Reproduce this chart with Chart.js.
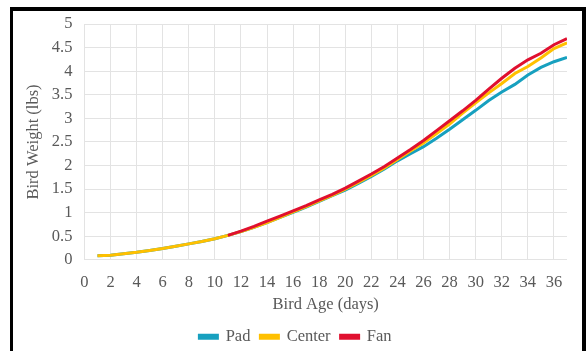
<!DOCTYPE html>
<html>
<head>
<meta charset="utf-8">
<script src="https://cdn.jsdelivr.net/npm/chart.js@4.4.1/dist/chart.umd.min.js"></script>
<style>
  html, body { margin: 0; padding: 0; background: #fff; }
  #wrap { position: relative; width: 587px; height: 351px; overflow: hidden; }
  #c { position: absolute; left: 0; top: 0; }
  #frame {
    position: absolute; left: 10px; top: 7px; width: 569px; height: 360px;
    border-left: 3px solid #000; border-top: 4px solid #000; border-right: 4px solid #000;
    pointer-events: none;
  }
</style>
</head>
<body>
<div id="wrap">
  <canvas id="c" width="587" height="357"></canvas>
  <div id="frame"></div>
</div>
<script>
// Bird age (days) and weight (lbs) for each treatment
const padDays = [1,2,3,4,5,6,7,8,9,10,11,12,13,14,15,16,17,18,19,20,21,22,23,24,25,26,27,28,29,30,31,32,33,34,35,36,37];
const padWeight = [0.09,0.10,0.13,0.16,0.20,0.24,0.29,0.34,0.39,0.45,0.52,0.60,0.69,0.79,0.90,1.01,1.12,1.24,1.36,1.48,1.62,1.77,1.93,2.10,2.25,2.40,2.58,2.77,2.97,3.17,3.38,3.56,3.72,3.92,4.08,4.20,4.29];

const centerDays = padDays;
const centerWeight = [0.09,0.10,0.13,0.16,0.20,0.24,0.29,0.34,0.39,0.45,0.52,0.60,0.69,0.79,0.90,1.02,1.13,1.25,1.37,1.50,1.64,1.79,1.95,2.13,2.31,2.48,2.68,2.88,3.11,3.33,3.54,3.74,3.95,4.10,4.28,4.48,4.60];

const fanDays = [11,12,13,14,15,16,17,18,19,20,21,22,23,24,25,26,27,28,29,30,31,32,33,34,35,36,37];
const fanWeight = [0.52,0.61,0.71,0.82,0.93,1.04,1.15,1.27,1.39,1.52,1.67,1.82,1.98,2.16,2.34,2.53,2.74,2.95,3.16,3.38,3.62,3.85,4.06,4.24,4.38,4.56,4.69];

const xTicks = [0,2,4,6,8,10,12,14,16,18,20,22,24,26,28,30,32,34,36];

const seriesNames = ['Pad', 'Center', 'Fan'];
const seriesColors = ['#17A0BF', '#FFC000', '#E0102F'];

const toPoints = (xs, ys) => xs.map((x, i) => ({ x: x, y: ys[i] }));

const textColor = '#595959';
const fontFamily = '"Liberation Serif", "DejaVu Serif", serif';
const fontSize = 16.5;

const datasets = [
  { label: seriesNames[0], data: toPoints(padDays, padWeight), order: 3 },
  { label: seriesNames[1], data: toPoints(centerDays, centerWeight), order: 2 },
  { label: seriesNames[2], data: toPoints(fanDays, fanWeight), order: 1 }
].map((d, i) => Object.assign(d, {
  borderColor: seriesColors[i],
  backgroundColor: seriesColors[i],
  borderWidth: 3,
  pointRadius: 0,
  tension: 0,
  fill: false
}));

new Chart(document.getElementById('c'), {
  type: 'line',
  data: { datasets: datasets },
  options: {
    responsive: false,
    animation: false,
    layout: { padding: { left: 24, right: 20, top: 24, bottom: 2 } },
    plugins: {
      tooltip: { enabled: false },
      legend: {
        position: 'bottom',
        labels: {
          sort: (a, b) => a.datasetIndex - b.datasetIndex,
          boxWidth: 18,
          boxHeight: 3,
          padding: 10,
          color: textColor,
          font: { family: fontFamily, size: fontSize }
        }
      }
    },
    scales: {
      x: {
        type: 'linear',
        min: 0,
        max: 37,
        afterBuildTicks: (axis) => { axis.ticks = xTicks.map(v => ({ value: v })); },
        border: { display: false },
        grid: { color: '#E3E3E3', lineWidth: 1, drawTicks: false },
        ticks: {
          padding: 13,
          maxRotation: 0,
          autoSkip: false,
          color: textColor,
          font: { family: fontFamily, size: fontSize }
        },
        title: {
          display: true,
          text: 'Bird Age (days)',
          color: textColor,
          padding: { top: -11, bottom: 4 },
          font: { family: fontFamily, size: fontSize }
        }
      },
      y: {
        min: 0,
        max: 5,
        border: { display: false },
        grid: { color: '#E3E3E3', lineWidth: 1, drawTicks: false },
        ticks: {
          stepSize: 0.5,
          autoSkip: false,
          padding: 12,
          color: textColor,
          font: { family: fontFamily, size: fontSize },
          callback: (v) => String(v)
        },
        title: {
          display: true,
          text: 'Bird Weight (lbs)',
          color: textColor,
          padding: { top: 0, bottom: -4 },
          font: { family: fontFamily, size: fontSize }
        }
      }
    }
  },
  plugins: [{
    id: 'whiteBg',
    beforeDraw(chart) {
      const ctx = chart.ctx;
      ctx.save();
      ctx.fillStyle = '#fff';
      ctx.fillRect(0, 0, chart.width, chart.height);
      ctx.restore();
    }
  }]
});
</script>
</body>
</html>
